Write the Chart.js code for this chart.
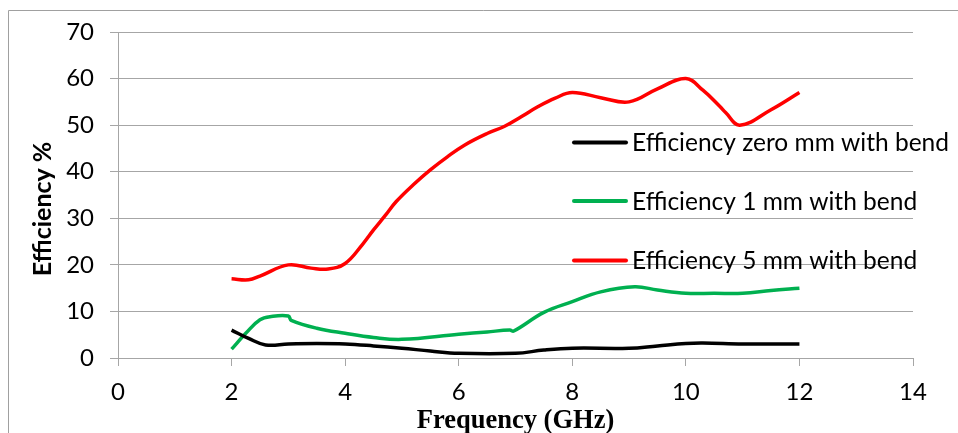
<!DOCTYPE html>
<html>
<head>
<meta charset="utf-8">
<script src="https://cdn.jsdelivr.net/npm/chart.js@4.4.1/dist/chart.umd.min.js"></script>
<style>
html,body{margin:0;padding:0;background:#fff;}
#wrap{position:relative;width:958px;height:433px;}
</style>
</head>
<body>
<div id="wrap"><canvas id="c" width="958" height="433"></canvas></div>
<script>
// ---- data ----
const seriesNames = ["Efficiency zero mm with bend", "Efficiency 1 mm with bend", "Efficiency 5 mm with bend"];
const seriesColors = ["#000000", "#00b050", "#ff0000"];

const freqZero = [2, 2.3, 2.6, 3, 3.5, 4, 4.5, 5, 5.5, 6, 7, 7.5, 8, 9, 9.5, 10, 10.3, 11, 12];
const effZero  = [6, 4.2, 2.8, 3.0, 3.1, 3.0, 2.6, 2.1, 1.5, 1.0, 1.0, 1.7, 2.1, 2.1, 2.6, 3.1, 3.2, 3.0, 3.0];

const freqOne = [2, 2.25, 2.5, 2.7, 3, 3.05, 3.5, 4, 4.5, 5, 6, 6.5, 6.9, 6.97, 7.5, 8, 8.5, 9.1, 9.5, 10, 10.5, 11, 11.5, 12];
const effOne  = [1.9, 5.3, 8.2, 8.9, 9.0, 8.1, 6.4, 5.3, 4.4, 4.0, 5.1, 5.6, 6.0, 5.8, 9.8, 12.1, 14.2, 15.3, 14.6, 13.9, 13.9, 13.9, 14.5, 15.0];

const freqFive = [2, 2.3, 2.5, 3, 3.4, 3.7, 4, 4.3, 4.5, 4.7, 4.9, 5.2, 5.5, 5.8, 6.1, 6.5, 6.8, 7.1, 7.4, 7.7, 8, 8.5, 9, 9.5, 10, 10.3, 10.6, 10.7, 10.95, 11.5, 12];
const effFive  = [17, 16.8, 17.6, 20, 19.3, 19.1, 20.3, 24.3, 27.5, 30.5, 33.6, 37.2, 40.4, 43.2, 45.7, 48.2, 49.7, 51.8, 54.0, 55.8, 57.0, 55.9, 55, 57.8, 60, 57.5, 54, 52.7, 50, 53.3, 57];

const xTicks = [0, 2, 4, 6, 8, 10, 12, 14];
const yTicks = [0, 10, 20, 30, 40, 50, 60, 70];
const xTitle = "Frequency (GHz)";
const yTitle = "Efficiency %";

function pts(xs, ys){ return xs.map((x,i)=>({x:x, y:ys[i]})); }
const allX = [freqZero, freqOne, freqFive];
const allY = [effZero, effOne, effFive];

const GRID = "#a6a6a6";
const TICKFONT = "Lato, 'Open Sans', sans-serif";

const framePlugin = {
  id: 'frame',
  beforeDraw(chart){
    const ctx = chart.ctx;
    ctx.save();
    ctx.strokeStyle = "#a0a0a0";
    ctx.lineWidth = 1;
    ctx.beginPath();
    ctx.moveTo(8.5, 433);
    ctx.lineTo(8.5, 10.5);
    ctx.lineTo(958, 10.5);
    ctx.stroke();
    ctx.restore();
  }
};

const yTitlePlugin = {
  id: 'ytitle',
  afterDraw(chart){
    const ctx = chart.ctx;
    ctx.save();
    ctx.translate(43, 209);
    ctx.rotate(-Math.PI/2);
    ctx.font = "bold 25px " + TICKFONT;
    ctx.fillStyle = "#000";
    ctx.textAlign = "center";
    ctx.textBaseline = "middle";
    ctx.fillText(yTitle, 0, 0);
    ctx.restore();
  }
};

const legendPlugin = {
  id: 'customLegend',
  afterDatasetsDraw(chart){
    const ctx = chart.ctx;
    const rows = [142.5, 201, 260.5];
    ctx.save();
    chart.data.datasets.forEach((ds, i) => {
      const y = rows[i];
      ctx.strokeStyle = ds.borderColor;
      ctx.lineWidth = 4;
      ctx.lineCap = "round";
      ctx.beginPath();
      ctx.moveTo(574, y);
      ctx.lineTo(626, y);
      ctx.stroke();
      ctx.fillStyle = "#000";
      ctx.font = "24.5px " + TICKFONT;
      ctx.textAlign = "left";
      ctx.textBaseline = "middle";
      ctx.fillText(ds.label, 632, y + 1);
    });
    ctx.restore();
  }
};

new Chart(document.getElementById('c'), {
  type: 'scatter',
  data: {
    datasets: seriesNames.map((name, i) => ({
      label: name,
      data: pts(allX[i], allY[i]),
      showLine: true,
      borderColor: seriesColors[i],
      backgroundColor: seriesColors[i],
      borderWidth: 3.5,
      pointRadius: 0,
      pointHoverRadius: 0,
      tension: 0.4,
      fill: false
    }))
  },
  options: {
    responsive: false,
    animation: false,
    devicePixelRatio: 1,
    layout: { padding: { left: 0, right: 45, top: 32, bottom: 0 } },
    plugins: { legend: { display: false }, tooltip: { enabled: false } },
    scales: {
      x: {
        type: 'linear',
        min: 0, max: 14,
        afterBuildTicks(scale){ scale.ticks = xTicks.map(v => ({value: v})); },
        afterFit(scale){ scale.height = 75; },
        grid: { drawOnChartArea: false, drawTicks: true, tickLength: 8, color: GRID, tickColor: GRID },
        border: { display: true, color: GRID, width: 1 },
        ticks: { color: "#000", font: { family: TICKFONT, size: 24 }, padding: 12, maxRotation: 0 },
        title: { display: true, text: xTitle, color: "#000", font: { family: "'Liberation Serif', 'Times New Roman', serif", size: 26.5, weight: 'bold' }, padding: { top: 0, bottom: -4 } }
      },
      y: {
        type: 'linear',
        min: 0, max: 70,
        afterBuildTicks(scale){ scale.ticks = yTicks.map(v => ({value: v})); },
        afterFit(scale){ scale.width = 118; },
        grid: { drawOnChartArea: true, drawTicks: true, tickLength: 8, color: GRID, tickColor: GRID },
        border: { display: true, color: GRID, width: 1 },
        ticks: { color: "#000", font: { family: TICKFONT, size: 24 }, padding: 16 }
      }
    }
  },
  plugins: [framePlugin, yTitlePlugin, legendPlugin]
});
</script>
</body>
</html>
